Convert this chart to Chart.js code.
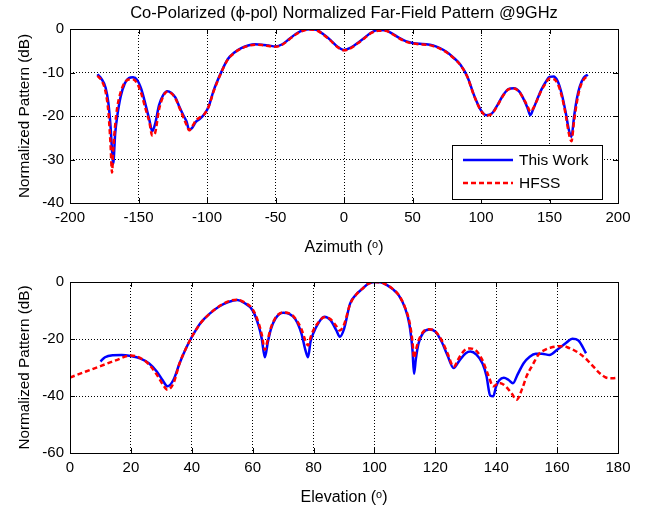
<!DOCTYPE html>
<html>
<head>
<meta charset="utf-8">
<script src="https://cdn.jsdelivr.net/npm/chart.js@4.4.0/dist/chart.umd.min.js"></script>
<style>
  html, body { margin:0; padding:0; background:#fff; }
  #wrap { position:relative; width:655px; height:510px; background:#fff; }
  #c1 { position:absolute; left:0; top:0; }
  #c2 { position:absolute; left:0; top:260px; }
</style>
</head>
<body>
<div id="wrap">
  <canvas id="c1" width="655" height="260"></canvas>
  <canvas id="c2" width="655" height="250"></canvas>
</div>
<script>
// ---------- DATA ----------
const titleText = "Co-Polarized (\u03D5-pol) Normalized Far-Field Pattern @9GHz";
const seriesNames = ["This Work", "HFSS"];

// Azimuth cut
const azimuth = [-180,-177,-174,-172,-170.5,-169.3,-168.5,-167,-165.5,-163,-160,-157,-154,-151,-148,-145,-142,-140,-138,-135,-132,-129,-126,-123,-120,-117,-115,-113,-111,-108,-105,-102,-99,-95,-90,-85,-80,-75,-70,-65,-60,-55,-50,-45,-40,-35,-30,-25,-20,-15,-10,-5,0,5,10,15,20,25,30,35,40,45,50,55,60,65,70,75,80,85,90,95,100,104,108,112,116,120,124,128,132,134,136,138,141,144,147,150,153,156,159,162,164,166,168,170,172,175,178];
const azThisWork = [-10.4,-11.5,-13.5,-17,-22,-28,-31,-24,-20,-15.5,-12.5,-11.3,-11.1,-11.7,-13.8,-17.2,-21,-23.5,-22,-17.5,-15.2,-14.3,-14.7,-15.8,-18,-20,-21.2,-23.2,-22.8,-21.3,-20.6,-19.6,-18,-14,-10.2,-7,-5.4,-4.4,-3.8,-3.5,-3.6,-3.8,-4.0,-3.5,-2.3,-1.1,-0.3,-0.05,-0.2,-1.2,-2.5,-4.0,-4.8,-4.3,-3.2,-2.0,-0.8,-0.25,-0.3,-1.0,-2.0,-2.8,-3.2,-3.4,-3.5,-3.8,-4.4,-5.3,-6.6,-8.2,-10.9,-15.3,-18.7,-19.8,-19.4,-17.5,-15.3,-13.8,-13.6,-14.4,-16.7,-18.2,-19.8,-18.5,-16.2,-14,-12.3,-11,-10.9,-12,-15,-19.5,-23,-24.8,-20,-16,-13.3,-11.2,-10.5];
const azHFSS = [-10.8,-11.8,-14.5,-19,-26,-33,-28,-22,-18,-14.5,-12.3,-11.6,-11.6,-12.5,-14.8,-18.2,-21.5,-24.5,-24,-18.5,-15.5,-14.4,-14.8,-16,-18.2,-20.5,-22,-23.3,-22.5,-21,-20.3,-19.6,-18,-14.2,-10.3,-7.1,-5.5,-4.5,-3.9,-3.6,-3.7,-3.9,-4.1,-3.6,-2.4,-1.2,-0.4,-0.1,-0.3,-1.3,-2.6,-4.1,-4.9,-4.4,-3.3,-2.1,-0.9,-0.4,-0.4,-1.1,-2.1,-2.9,-3.3,-3.5,-3.6,-3.9,-4.5,-5.4,-6.7,-8.3,-11,-15.4,-18.8,-19.9,-19.5,-17.6,-15.4,-13.9,-13.7,-14.5,-16.6,-17.8,-19,-18.3,-16.3,-14.2,-12.6,-11.4,-11.5,-12.6,-15.5,-20,-23.8,-25.8,-21,-16.8,-13.8,-11.6,-10.8];

// Elevation cut
const elevThisWork = [10,11.5,14,17,20,23,26,28.5,30.5,32,34,36,38,40,43,46,49,52,55,57,60,62,63,64,65,66,67.5,70,72,74,76,77.3,78.2,79,80,81.5,83.5,85.5,87.5,88.6,90,92,94,96,98,100,102,104,106,108,110,111.5,112.5,113,113.6,114.5,116,118,120,122,124,126,128,130,131.5,133.5,135.5,136.8,138,139,140,141,142.5,144,145.5,147,149,151,153,155,157.5,160,163,165,167,169.5];
const elThisWork = [-27.9,-26.4,-25.7,-25.6,-26,-26.8,-28.6,-31.4,-34.6,-36.6,-34.3,-28.5,-23.5,-19.3,-14.2,-11,-8.6,-7,-6.3,-7.2,-10,-15.5,-20,-26.4,-21,-16.5,-12.8,-10.8,-11.2,-13,-18,-23.8,-26.4,-21,-17.8,-14.6,-12.2,-13.3,-17,-19.2,-16.5,-7.6,-4.4,-2.4,-0.6,0,-0.1,-1,-2.5,-4.7,-9,-15,-24,-32.2,-27,-21.5,-17.8,-16.7,-17.4,-20.8,-25.8,-30.2,-27.4,-25,-24.4,-25.5,-28.6,-33,-39.8,-40.1,-36.5,-34.5,-33.6,-34.3,-35.5,-32.5,-28.5,-26.2,-25.2,-25.2,-25.6,-23.8,-21.3,-19.9,-20.5,-25];
const elevHFSS = [0,5,10,15,20,23,26,28.5,30.5,32,34,36,38,40,43,46,49,52,55,57,60,62,63,64,65,66,67.5,70,72,74,76,77.3,78.2,79,80,81.5,83.5,85.5,87.5,88.6,90,92,94,96,98,100,102,104,106,108,110,111.5,112.5,113,113.6,114.5,116,118,120,122,124,126,128,130,131.5,133.5,135.5,137.5,139,141,143,145,146.7,148.5,150,152,154,156,158,160,162,164,166,168,170,172,174,176,178,180];
const elHFSS = [-33.5,-31.5,-29.5,-27.5,-25.8,-26.6,-29,-32.5,-36,-37.8,-35.5,-28.5,-23.5,-19.3,-14.3,-11,-8.5,-6.8,-6.2,-7,-9.6,-14.5,-18.5,-23.8,-20,-16,-12.5,-10.7,-11,-12.8,-16.5,-20.5,-22.3,-19.5,-16.8,-14.3,-12.4,-13,-15.5,-17,-15,-7.8,-4.4,-2.4,-0.6,0,-0.1,-1,-2.4,-4.6,-8.8,-14,-21,-26.7,-24,-20.5,-17.5,-16.6,-17.3,-20.3,-25,-29.7,-26.2,-23.6,-23.3,-24.2,-27.5,-33,-36.6,-35.4,-36.5,-39,-41.3,-37.5,-33,-29,-25.3,-23.8,-23,-22.6,-22.5,-23.2,-24.2,-25.6,-27.5,-29.8,-32,-33.5,-33.8,-33.6];

// Axis ranges / tick labels
const azTicks = [-200,-150,-100,-50,0,50,100,150,200];
const azDbTicks = [-40,-30,-20,-10,0];
const elTicks = [0,20,40,60,80,100,120,140,160,180];
const elDbTicks = [-60,-40,-20,0];

// ---------- STYLE ----------
const FONT = "'Liberation Sans', Arial, Helvetica, sans-serif";
Chart.defaults.font.family = FONT;
Chart.defaults.color = '#000';
const BLUE = '#0000ff', RED = '#ff0000';

function toPts(xs, ys){ return xs.map((x,i)=>({x:x, y:ys[i]})); }

// Box + inward ticks (MATLAB style axes) + title centred over axes
const boxPlugin = {
  id: 'boxPlugin',
  afterDatasetsDraw(chart) {
    const {ctx, chartArea:a, scales} = chart;
    ctx.save();
    ctx.strokeStyle = '#000';
    ctx.lineWidth = 1;
    ctx.setLineDash([]);
    ctx.strokeRect(Math.round(a.left)+0.5, Math.round(a.top)+0.5, Math.round(a.right-a.left), Math.round(a.bottom-a.top));
    const tl = 5;
    ctx.beginPath();
    scales.x.ticks.forEach(t => {
      const px = Math.round(scales.x.getPixelForValue(t.value))+0.5;
      ctx.moveTo(px, a.bottom); ctx.lineTo(px, a.bottom - tl);
      ctx.moveTo(px, a.top); ctx.lineTo(px, a.top + tl);
    });
    scales.y.ticks.forEach(t => {
      const py = Math.round(scales.y.getPixelForValue(t.value))+0.5;
      ctx.moveTo(a.left, py); ctx.lineTo(a.left + tl, py);
      ctx.moveTo(a.right, py); ctx.lineTo(a.right - tl, py);
    });
    ctx.stroke();
    ctx.restore();
  },
  afterDraw(chart, args, opts) {
    if (!opts || !opts.title) return;
    const {ctx, chartArea:a} = chart;
    ctx.save();
    ctx.fillStyle = '#000';
    ctx.font = '16.5px ' + FONT;
    ctx.textAlign = 'center';
    ctx.textBaseline = 'middle';
    ctx.fillText(opts.title, (a.left + a.right) / 2, 13);
    ctx.restore();
  }
};

// Legend drawn inside the axes (top plot)
const innerLegend = {
  id: 'innerLegend',
  afterDraw(chart, args, opts) {
    if (!opts || !opts.show) return;
    const ctx = chart.ctx;
    const x0 = 452.5, y0 = 145.5, w = 150, h = 54;
    ctx.save();
    ctx.fillStyle = '#fff';
    ctx.fillRect(x0, y0, w, h);
    ctx.strokeStyle = '#000';
    ctx.lineWidth = 1;
    ctx.setLineDash([]);
    ctx.strokeRect(x0, y0, w, h);
    const rows = [160, 183];
    chart.data.datasets.forEach((ds, i) => {
      const y = rows[i];
      ctx.beginPath();
      ctx.strokeStyle = ds.borderColor;
      ctx.lineWidth = ds.borderWidth;
      ctx.setLineDash(ds.borderDash || []);
      ctx.moveTo(463, y); ctx.lineTo(513, y);
      ctx.stroke();
      ctx.setLineDash([]);
      ctx.fillStyle = '#000';
      ctx.font = '15.5px ' + FONT;
      ctx.textBaseline = 'middle';
      ctx.textAlign = 'left';
      ctx.fillText(ds.label, 519, y + 1);
    });
    ctx.restore();
  }
};

function makeChart(canvas, cfg) {
  const xs = {
    type: 'linear', min: cfg.xMin, max: cfg.xMax,
    afterBuildTicks: s => { s.ticks = cfg.xTicks.map(v => ({value:v})); },
    afterFit: s => { s.height = cfg.xAxisH; },
    grid: { color: '#000', lineWidth: 1, drawTicks: false },
    border: { display: false, dash: [1,2] },
    ticks: { font: { size: 15 }, padding: 6, maxRotation: 0, color:'#000' },
    title: { display: true, text: cfg.xTitle, font: { size: 16 }, color:'#000', padding: { top: 4, bottom: 3 } }
  };
  const ys = {
    type: 'linear', min: cfg.yMin, max: cfg.yMax,
    afterBuildTicks: s => { s.ticks = cfg.yTicks.map(v => ({value:v})); },
    afterFit: s => { s.width = 70; },
    grid: { color: '#000', lineWidth: 1, drawTicks: false },
    border: { display: false, dash: [1,2] },
    ticks: { font: { size: 15 }, padding: 6, color:'#000' },
    title: { display: true, text: 'Normalized Pattern (dB)', font: { size: 15.3 }, color:'#000', padding: { top: 16, bottom: 0 } }
  };
  return new Chart(canvas, {
    type: 'line',
    data: {
      datasets: [
        { label: seriesNames[0], data: cfg.d1, borderColor: BLUE, backgroundColor: BLUE, borderWidth: 2.5, pointRadius: 0, cubicInterpolationMode: 'monotone', order: 2, fill:false },
        { label: seriesNames[1], data: cfg.d2, borderColor: RED, backgroundColor: RED, borderWidth: 2.5, borderDash: [5,3], pointRadius: 0, cubicInterpolationMode: 'monotone', order: 1, fill:false }
      ]
    },
    options: {
      responsive: false, animation: false, devicePixelRatio: 1,
      layout: { padding: cfg.padding },
      scales: { x: xs, y: ys },
      plugins: {
        legend: { display: false },
        tooltip: { enabled: false },
        title: { display: false },
        boxPlugin: { title: cfg.title },
        innerLegend: { show: cfg.legend }
      }
    },
    plugins: [boxPlugin, innerLegend]
  });
}

makeChart(document.getElementById('c1'), {
  xMin: -200, xMax: 200, xTicks: azTicks, yMin: -40, yMax: 0, yTicks: azDbTicks,
  xTitle: 'Azimuth (\u1D52)', xAxisH: 57, title: titleText, legend: true,
  padding: { left: 0, right: 37, top: 29, bottom: 0 },
  d1: toPts(azimuth, azThisWork), d2: toPts(azimuth, azHFSS)
});
makeChart(document.getElementById('c2'), {
  xMin: 0, xMax: 180, xTicks: elTicks, yMin: -60, yMax: 0, yTicks: elDbTicks,
  xTitle: 'Elevation (\u1D52)', xAxisH: 57, title: null, legend: false,
  padding: { left: 0, right: 37, top: 22, bottom: 0 },
  d1: toPts(elevThisWork, elThisWork), d2: toPts(elevHFSS, elHFSS)
});
</script>
</body>
</html>
